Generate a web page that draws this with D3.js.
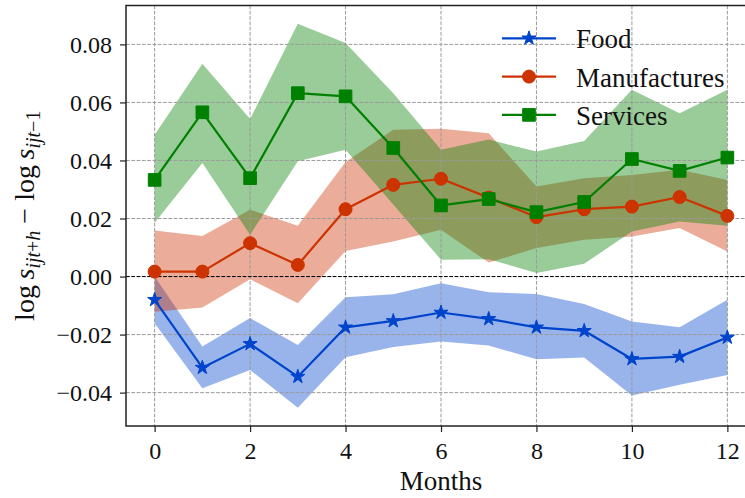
<!DOCTYPE html>
<html>
<head>
<meta charset="utf-8">
<script src="https://cdn.jsdelivr.net/npm/d3@7"></script>
<style>
  html, body { margin: 0; padding: 0; background: #fff; }
  svg { display: block; font-family: "Liberation Serif", "DejaVu Serif", serif; }
  svg text { font-family: "Liberation Serif", "DejaVu Serif", serif; }
</style>
</head>
<body>
<svg id="chart" width="745" height="498"></svg>
<script>
// Horizon (months after the shock)
const months = [0, 1, 2, 3, 4, 5, 6, 7, 8, 9, 10, 11, 12];

// Food: point estimates and confidence band
const foodMean  = [-0.0080, -0.0314, -0.0232, -0.0345, -0.0175, -0.0153, -0.0124, -0.0146, -0.0175, -0.0187, -0.0284, -0.0276, -0.0210];
const foodUpper = [ 0.0000, -0.0241, -0.0143, -0.0236, -0.0071, -0.0061, -0.0023, -0.0054, -0.0060, -0.0095, -0.0155, -0.0175, -0.0080];
const foodLower = [-0.0161, -0.0385, -0.0322, -0.0452, -0.0278, -0.0243, -0.0224, -0.0238, -0.0285, -0.0279, -0.0410, -0.0373, -0.0339];

// Manufactures
const manuMean  = [ 0.0017,  0.0017,  0.0115,  0.0040,  0.0232,  0.0316,  0.0337,  0.0272,  0.0205,  0.0232,  0.0241,  0.0274,  0.0209];
const manuUpper = [ 0.0159,  0.0140,  0.0230,  0.0175,  0.0395,  0.0506,  0.0509,  0.0494,  0.0310,  0.0339,  0.0350,  0.0368,  0.0333];
const manuLower = [-0.0121, -0.0107, -0.0009, -0.0092,  0.0088,  0.0121,  0.0161,  0.0048,  0.0098,  0.0127,  0.0138,  0.0167,  0.0086];

// Services
const servMean  = [ 0.0333,  0.0566,  0.0339,  0.0632,  0.0621,  0.0443,  0.0245,  0.0267,  0.0222,  0.0257,  0.0405,  0.0364,  0.0410];
const servUpper = [ 0.0489,  0.0733,  0.0543,  0.0871,  0.0805,  0.0632,  0.0437,  0.0472,  0.0431,  0.0467,  0.0644,  0.0563,  0.0644];
const servLower = [ 0.0185,  0.0391,  0.0144,  0.0397,  0.0437,  0.0248,  0.0058,  0.0060,  0.0012,  0.0044,  0.0155,  0.0190,  0.0175];

// Axis ticks
const xTicks = [0, 2, 4, 6, 8, 10, 12];
const yTicks = [-0.04, -0.02, 0.00, 0.02, 0.04, 0.06, 0.08];

const seriesNames = ["Food", "Manufactures", "Services"];

const series = [
  { name: seriesNames[0], mean: foodMean, upper: foodUpper, lower: foodLower, color: "#0044cc", marker: "star" },
  { name: seriesNames[1], mean: manuMean, upper: manuUpper, lower: manuLower, color: "#cc3300", marker: "circle" },
  { name: seriesNames[2], mean: servMean, upper: servUpper, lower: servLower, color: "#008000", marker: "square" }
];

const FONT = "'Liberation Serif', 'DejaVu Serif', serif";
const svg = d3.select("#chart");

// Plot frame (the right side of the axes box runs past the window edge)
const plot = { left: 126, right: 756, top: 5.5, bottom: 426 };

const x = d3.scaleLinear().domain([-0.6, 12.6]).range([plot.left, plot.right]);
const y = d3.scaleLinear().domain([-0.0515, 0.0934]).range([plot.bottom, plot.top]);

const rows = s => months.map((m, i) => ({ m, mean: s.mean[i], lo: s.lower[i], hi: s.upper[i] }));

// Confidence bands
const area = d3.area().x(d => x(d.m)).y0(d => y(d.lo)).y1(d => y(d.hi));
series.forEach(s => {
  svg.append("path")
    .datum(rows(s))
    .attr("d", area)
    .attr("fill", s.color)
    .attr("fill-opacity", 0.4);
});

// Grid
const grid = svg.append("g").attr("stroke", "#9a9a9a").attr("stroke-width", 1).attr("stroke-dasharray", "3.7,1.6");
grid.selectAll("line.v").data(xTicks).join("line")
  .attr("x1", d => x(d)).attr("x2", d => x(d))
  .attr("y1", plot.top).attr("y2", plot.bottom);
grid.selectAll("line.h").data(yTicks).join("line")
  .attr("y1", d => y(d)).attr("y2", d => y(d))
  .attr("x1", plot.left).attr("x2", plot.right);

// Zero reference line
svg.append("line")
  .attr("x1", plot.left).attr("x2", plot.right)
  .attr("y1", y(0)).attr("y2", y(0))
  .attr("stroke", "#000").attr("stroke-width", 1)
  .attr("stroke-dasharray", "3.7,1.6");

// Marker shapes
const symbolFor = {
  star: d3.symbol().type(d3.symbolStar).size(62),
  circle: d3.symbol().type(d3.symbolCircle).size(133),
  square: d3.symbol().type(d3.symbolSquare).size(160)
};

// Lines and markers
const line = d3.line().x(d => x(d.m)).y(d => y(d.mean));
series.forEach(s => {
  const g = svg.append("g");
  g.append("path")
    .datum(rows(s))
    .attr("d", line)
    .attr("fill", "none")
    .attr("stroke", s.color)
    .attr("stroke-width", 2.2)
    .attr("stroke-linejoin", "round");
  g.selectAll("path.mk").data(rows(s)).join("path")
    .attr("class", "mk")
    .attr("transform", d => `translate(${x(d.m)},${y(d.mean)})`)
    .attr("d", symbolFor[s.marker]())
    .attr("fill", s.color)
    .attr("stroke", s.color)
    .attr("stroke-width", 1);
});

// Axes frame
svg.append("rect")
  .attr("x", plot.left).attr("y", plot.top)
  .attr("width", plot.right - plot.left).attr("height", plot.bottom - plot.top)
  .attr("fill", "none").attr("stroke", "#222").attr("stroke-width", 1.5);

// Axes
const yAxis = svg.append("g")
  .attr("transform", `translate(${plot.left},0)`)
  .call(d3.axisLeft(y).tickValues(yTicks).tickFormat(d3.format(".2f")).tickSize(6).tickPadding(8));
const xAxis = svg.append("g")
  .attr("transform", `translate(0,${plot.bottom})`)
  .call(d3.axisBottom(x).tickValues(xTicks).tickFormat(d3.format("d")).tickSize(6).tickPadding(10));
[xAxis, yAxis].forEach(ax => {
  ax.attr("font-family", FONT).attr("font-size", 24);
  ax.select(".domain").remove();
  ax.selectAll(".tick line").attr("stroke", "#222").attr("stroke-width", 1.2);
  ax.selectAll(".tick text")
    .attr("fill", "#111")
    .attr("font-family", FONT)
    .attr("font-size", 24);
});

// Axis labels
svg.append("text")
  .attr("x", (plot.left + plot.right) / 2)
  .attr("y", 490)
  .attr("text-anchor", "middle")
  .attr("fill", "#111")
  .attr("font-family", FONT)
  .attr("font-size", 27)
  .text("Months");

const yl = svg.append("text")
  .attr("transform", `translate(34,${(plot.top + plot.bottom) / 2}) rotate(-90)`)
  .attr("text-anchor", "middle")
  .attr("fill", "#111")
  .attr("font-family", FONT)
  .attr("font-size", 28);
yl.append("tspan").text("log\u2009");
yl.append("tspan").attr("font-style", "italic").text("s");
yl.append("tspan").attr("font-style", "italic").attr("font-size", 20).attr("dy", 6).text("ijt");
yl.append("tspan").attr("font-size", 20).text("+");
yl.append("tspan").attr("font-style", "italic").attr("font-size", 20).text("h");
yl.append("tspan").attr("dy", -6).text(" \u2212 log\u2009");
yl.append("tspan").attr("font-style", "italic").text("s");
yl.append("tspan").attr("font-style", "italic").attr("font-size", 20).attr("dy", 6).text("ijt");
yl.append("tspan").attr("font-size", 20).text("\u22121");

// Legend
const legend = svg.append("g").attr("transform", "translate(502,38.3)");
series.forEach((s, i) => {
  const row = legend.append("g").attr("transform", `translate(0,${i * 38.3})`);
  row.append("line")
    .attr("x1", 0).attr("x2", 54)
    .attr("stroke", s.color).attr("stroke-width", 2.2);
  row.append("path")
    .attr("transform", "translate(27,0)")
    .attr("d", symbolFor[s.marker]())
    .attr("fill", s.color).attr("stroke", s.color).attr("stroke-width", 1);
  row.append("text")
    .attr("x", 74).attr("y", 10)
    .attr("fill", "#111")
    .attr("font-family", FONT)
    .attr("font-size", 27)
    .text(s.name);
});
</script>
</body>
</html>
